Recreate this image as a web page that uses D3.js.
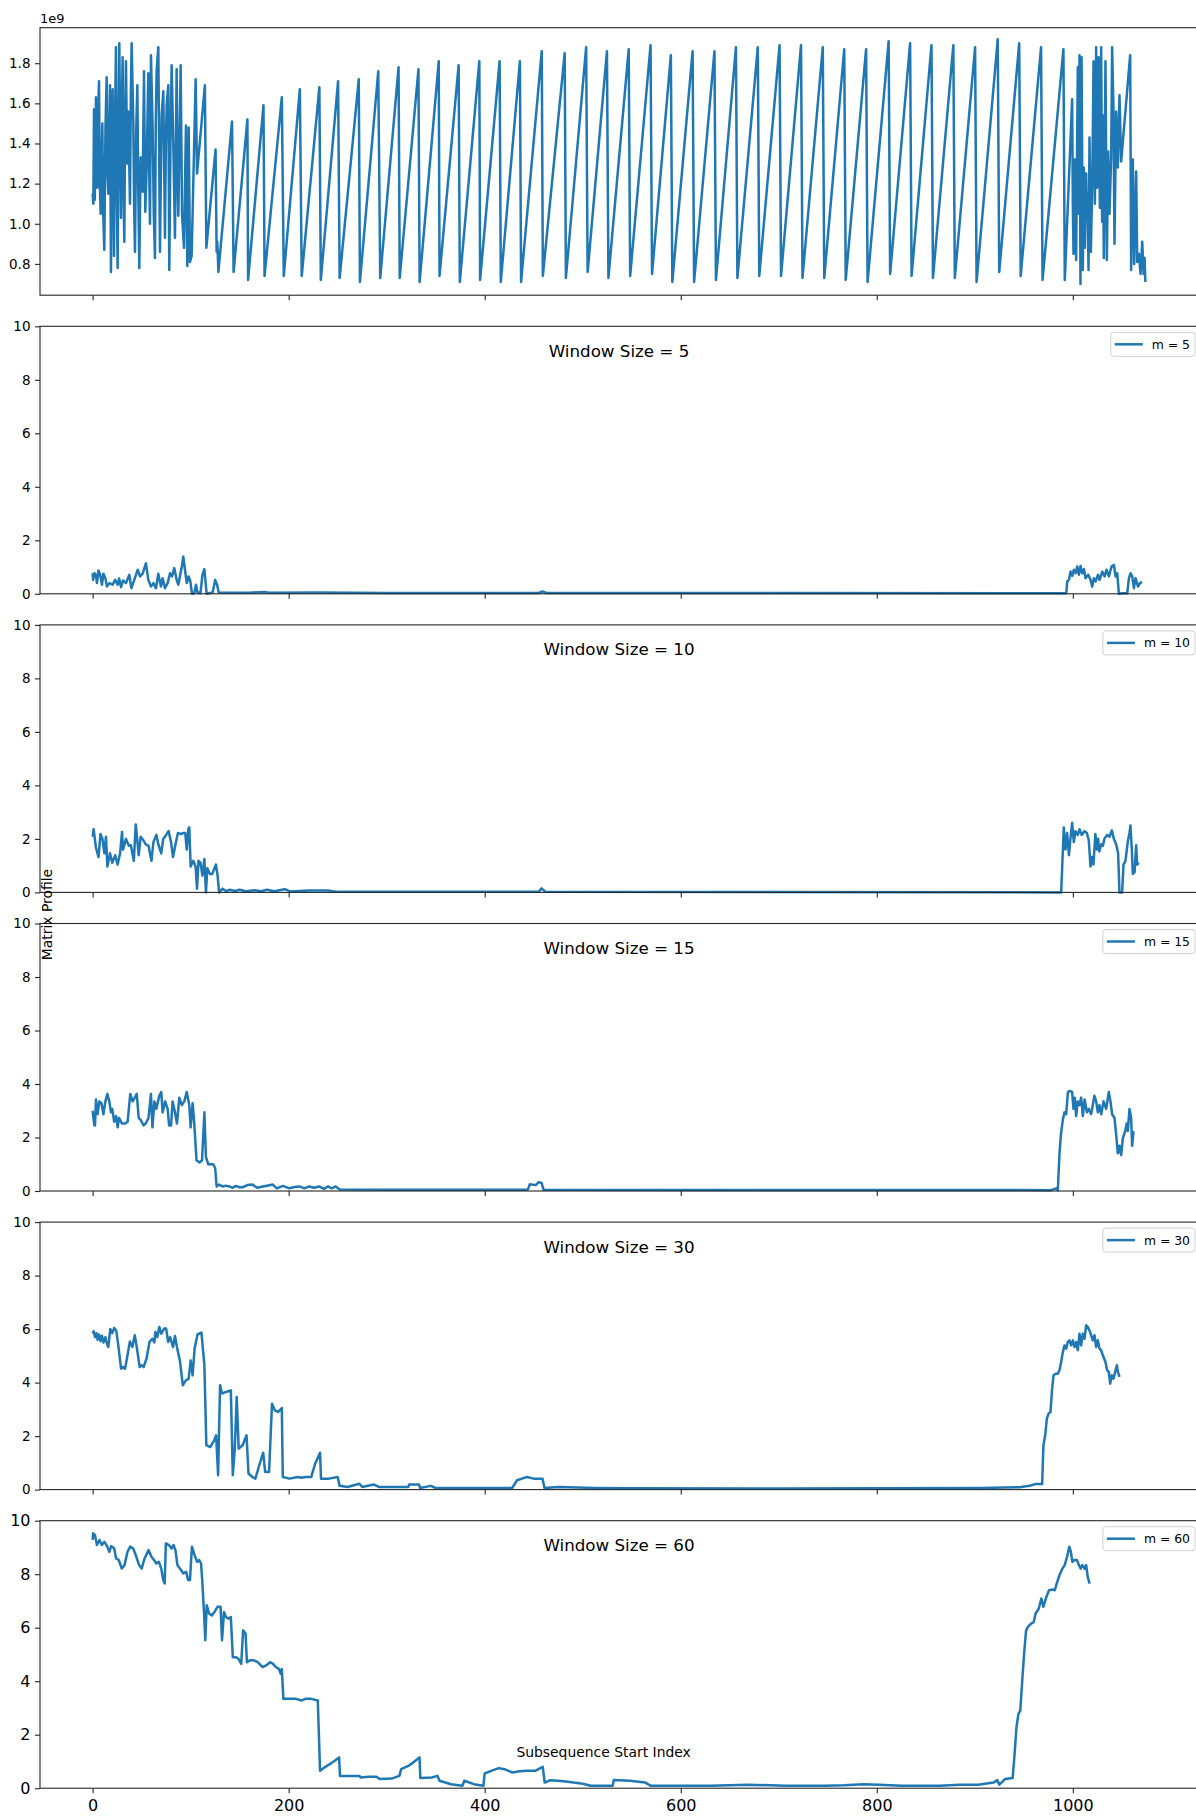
<!DOCTYPE html>
<html><head><meta charset="utf-8">
<script src="https://cdn.jsdelivr.net/npm/d3@7"></script>
<style>
body{margin:0;background:#fff}
svg{display:block}
text{font-family:"DejaVu Sans",sans-serif;fill:#000}
</style>
</head><body>
<svg id="c" width="1196" height="1816"></svg>
<script>
// ---------- data ----------
const xTicks = [0, 200, 400, 600, 800, 1000];
const rawTicks = [0.8, 1.0, 1.2, 1.4, 1.6, 1.8];
const mpTicks = [0, 2, 4, 6, 8, 10];
const windowSizes = [5, 10, 15, 30, 60];

// raw series, vertices [index, value (x1e9)]
const rawSeries = [
[0,1.15],[0.7,1.10],[1.4,1.57],[2.2,1.12],[3.4,1.63],[4.8,1.18],[5.6,1.55],[6.5,1.71],[7.3,1.20],[8.2,1.05],[9.9,1.50],[10.8,1.05],[11.9,0.87],[13.1,1.48],[14.3,1.73],[15.1,1.25],[16.0,1.15],[17.7,1.69],[18.7,0.76],[19.5,1.35],[20.4,1.67],[21.8,0.84],[22.7,1.45],[23.8,1.88],[24.6,1.20],[25.5,0.78],[26.3,1.40],[27.2,1.90],[28.9,1.03],[29.7,1.55],[30.6,1.83],[31.4,1.20],[32.3,0.91],[33.1,1.50],[34.0,1.81],[35.2,1.30],[36.4,1.56],[38.1,1.10],[39.0,1.65],[39.8,1.90],[41.5,1.51],[42.3,1.10],[43.2,0.86],[44.4,1.45],[45.6,1.69],[46.6,1.15],[47.6,0.78],[49.0,1.33],[51.0,1.16],[52.4,1.76],[53.7,1.06],[55.1,1.28],[56.8,1.75],[57.6,1.30],[58.5,1.00],[59.5,1.84],[61.2,1.48],[62.4,1.05],[63.6,0.83],[64.4,1.50],[65.3,1.76],[67.0,1.88],[68.7,0.86],[69.5,1.20],[70.4,1.54],[72.1,1.66],[73.8,0.93],[74.6,1.35],[75.5,1.59],[77.2,1.69],[78.2,0.77],[79.4,1.40],[80.6,1.79],[82.3,1.40],[84.0,0.93],[85.7,1.77],[86.5,1.30],[87.4,1.04],[89.8,1.79],[91.2,1.05],[93.2,0.88],[95.2,1.49],[96.6,0.79],[98.0,1.48],[99.3,0.81],[101.0,0.84],
[105.1,1.72],[106.5,1.25],[114.5,1.69],[116,0.88],[125.4,1.37],[126.5,0.86],[127.2,0.91],[128.3,0.76],[142.2,1.51],[143.8,0.76],[157.9,1.52],[158.6,0.72],[174.3,1.59],[175.4,0.74],[193,1.63],[195,0.74],[211.4,1.67],[213.3,0.74],[231.3,1.68],[232.8,0.72],[250.4,1.71],[252,0.73],[271.5,1.72],[272.7,0.71],[291.4,1.76],[293.4,0.73],[312.1,1.78],[313.3,0.73],[332.4,1.77],[333.6,0.71],[353.1,1.81],[353.9,0.74],[373.4,1.79],[374.6,0.71],[394.5,1.81],[395.3,0.72],[415.2,1.81],[416.4,0.71],[435.9,1.81],[437.1,0.71],[458.2,1.86],[459.3,0.74],[481.6,1.85],[482.8,0.73],[503.5,1.88],[505,0.76],[524.7,1.86],[526.2,0.73],[546.9,1.87],[548.4,0.74],[569.2,1.89],[570.7,0.75],[589.9,1.84],[591.4,0.71],[612.1,1.86],[613.6,0.71],[634.4,1.86],[635.9,0.72],[656.3,1.88],[657.8,0.73],[678.6,1.88],[680.1,0.74],[700.8,1.89],[702.3,0.74],[722.7,1.89],[724.2,0.73],[744.9,1.88],[746.4,0.73],[766.8,1.87],[768.3,0.72],[789.1,1.87],[790.6,0.71],[812.1,1.91],[813.6,0.75],[834,1.90],[835.5,0.74],[855.8,1.89],[857.3,0.73],[878.1,1.89],[879.6,0.73],[900.3,1.88],[901.8,0.71],[923.4,1.92],[924.9,0.76],[945.3,1.90],[946.8,0.74],[967.6,1.88],[969.1,0.72],[990.4,1.87],[991.8,0.72],
[999.3,1.62],[1000.0,1.10],[1000.7,0.85],[1002.0,1.32],[1003.4,0.82],[1004.2,1.30],[1005.1,1.78],[1006.1,1.05],[1006.8,1.84],[1007.8,0.70],[1008.9,1.83],[1010.2,0.77],[1011.2,1.28],[1012.3,0.88],[1013.6,1.25],[1014.3,1.02],[1015,1.15],[1016,0.77],[1017,1.43],[1018.4,0.86],[1019.7,1.18],[1020.4,1.45],[1021.1,1.81],[1022.5,1.10],[1023.8,1.88],[1024.8,1.18],[1025.5,1.50],[1026.2,1.83],[1027.6,1.08],[1028.9,1.88],[1029.9,1.01],[1030.6,1.54],[1031.6,0.83],[1032.4,1.30],[1033.3,1.81],[1034.7,0.82],[1036.1,1.36],[1037.4,1.05],[1039.1,1.33],[1040.1,1.88],[1041.5,1.56],[1042.5,0.90],[1044.2,1.56],[1045.9,1.28],[1047.6,1.64],[1049.3,1.31],[1058.5,1.84],[1059.5,0.77],[1061.2,1.32],[1062.6,0.80],[1064.6,1.26],[1065.7,0.81],[1067.4,0.85],[1069.1,0.75],[1070.8,0.91],[1072.2,0.75],[1073.2,0.83],[1074,0.71]
];

const mp5 = [
[0,0.77],[0.5,0.52],[1.7,0.77],[3.4,0.71],[4.4,0.40],[6,0.87],[7.7,0.71],[9.5,0.34],[11,0.75],[13,0.58],[14.6,0.27],[17,0.40],[20.4,0.34],[23,0.52],[25.5,0.34],[27,0.57],[29,0.25],[31,0.50],[34,0.40],[37.4,0.71],[39.5,0.21],[42.5,0.52],[46,0.90],[48.3,0.65],[51,0.75],[54.4,1.14],[56.8,0.52],[59.5,0.27],[62,0.40],[64.6,0.21],[67,0.75],[69.7,0.27],[71.4,0.58],[73.8,0.21],[76.5,0.40],[79,0.77],[81,0.65],[83.3,0.96],[85.7,0.52],[87.4,0.34],[89,0.65],[91,1.02],[92.5,1.39],[94.2,0.90],[96,0.40],[98,0.65],[99.7,0.46],[101.4,0],[103.7,0.02],[105.4,0.34],[107,0.05],[110,0.02],[112,0.71],[114,0.92],[115,0.52],[116.3,0],[122.4,0.05],[125,0.52],[127,0.34],[128.6,0.05],[160,0.04],[175,0.07],[180,0.04],[230,0.05],[300,0.03],[455,0.03],[459,0.09],[463,0.03],[700,0.03],[989,0.02],
[993.3,0.02],[994.3,0.46],[996,0.52],[997.7,0.83],[999.4,0.67],[1001,0.90],[1002.8,0.77],[1004.5,1.02],[1006.2,0.71],[1007.9,1.04],[1009.6,0.77],[1011.3,0.92],[1013,0.58],[1015.7,0.71],[1018.1,0.52],[1019.8,0.27],[1021.5,0.58],[1023.2,0.46],[1025.6,0.71],[1027.3,0.52],[1030,0.83],[1032.4,0.65],[1034.4,0.90],[1036.8,0.65],[1039.5,1.02],[1041.9,1.08],[1043.6,0.65],[1045.3,0.77],[1047,0],[1050.4,0.02],[1055.5,0.02],[1057.2,0.58],[1058.9,0.77],[1060.6,0.65],[1062.3,0.21],[1064,0.58],[1066.5,0.27],[1068.5,0.40],[1070.5,0.45]
];

const mp10 = [
[0,2.08],[1,2.36],[3.4,1.67],[6,1.32],[8,2.18],[10,2.0],[12,1.46],[13.6,2.08],[15,0.97],[17.7,1.46],[20,1.11],[23,1.39],[25.5,1.04],[28,1.46],[30,2.26],[31,1.6],[34,2.0],[37,1.74],[39,1.76],[42,1.18],[44,2.54],[47,1.39],[49,2.08],[52,1.94],[54,1.8],[57,1.74],[60,1.18],[62,1.88],[65,2.15],[67,1.8],[70,1.46],[72,2.0],[75,2.15],[77.5,2.29],[80,1.88],[82,1.32],[85,1.88],[87,2.22],[90,2.18],[92.5,2.22],[94.5,2.22],[96,1.6],[97.6,2.36],[98.6,2.43],[100,0.97],[102.7,1.18],[105,0.97],[106.5,0.14],[108,1.18],[110,1.11],[112,0.63],[114,1.25],[115.6,0],[117,0.9],[119.7,0.69],[122,0.69],[125.8,1.04],[127.5,0.63],[129,0],[132.6,0.14],[136,0.05],[140,0.1],[145,0.05],[150,0.1],[156,0.04],[165,0.08],[172,0.04],[178,0.1],[185,0.04],[196,0.12],[202,0.03],[220,0.07],[240,0.07],[250,0.02],[455,0.02],[458,0.15],[462,0.02],[988.1,0],
[990.8,2.43],[992.5,1.6],[994.2,2.22],[996,1.39],[997.6,2.01],[999.3,2.6],[1001,1.88],[1002.7,2.29],[1005,2.15],[1006.8,2.36],[1009,2.15],[1012,2.29],[1014.3,2.22],[1016.3,1.94],[1018,0.97],[1019.4,1.32],[1021,1.04],[1023,2.18],[1024.5,1.6],[1025.8,2.01],[1027,1.53],[1029,1.8],[1030.6,1.74],[1032.3,2.01],[1035,2.15],[1037.4,2.08],[1039.8,2.32],[1041.8,2.01],[1044.2,1.8],[1046.2,1.46],[1047.6,0],[1050.3,0],[1051.7,1.04],[1053.7,1.18],[1056,1.88],[1057.8,2.22],[1058.8,2.5],[1060.2,1.6],[1061.2,0.69],[1063,0.76],[1064.6,1.76],[1065.6,1.04],[1067.3,1.11]
];

const mp15 = [
[0,3.0],[1.7,2.45],[2.4,2.45],[3.4,3.42],[5,2.87],[6.8,3.35],[9,3.28],[11,2.87],[13,3.35],[15,3.63],[17,3.35],[18.7,2.94],[20,3.07],[22,2.59],[24,2.8],[25.5,2.38],[27,2.73],[30,2.52],[33,2.52],[35.7,2.59],[38.4,3.63],[40.8,3.35],[43,3.49],[45,3.63],[47,2.73],[49,2.66],[52,2.45],[54,2.52],[57,2.73],[59.5,3.63],[61,2.38],[63,3.35],[65,3.07],[68,3.56],[70,3.70],[71.4,2.94],[74,3.35],[76.5,3.07],[78,2.45],[80,2.45],[81.6,3.35],[84,2.94],[86,2.52],[88.4,3.49],[91,3.21],[93.5,3.35],[96,3.70],[98.6,3.21],[100,2.38],[102,3.28],[103.7,2.52],[106,1.14],[109,1.07],[111.6,1.14],[114,2.94],[115.6,1.27],[118,1.0],[120.7,1.0],[123,1.0],[125,0.86],[126.5,0.17],[129,0.24],[132.6,0.17],[136,0.2],[139.5,0.17],[143,0.12],[146,0.19],[150,0.14],[153,0.14],[158,0.22],[163,0.24],[168,0.12],[173.5,0.17],[178,0.2],[183.7,0.24],[188,0.1],[194,0.19],[200.7,0.1],[206,0.15],[211,0.17],[216,0.1],[221,0.17],[226,0.12],[231,0.17],[236,0.08],[240,0.17],[244,0.1],[248,0.17],[252,0.06],[300,0.05],[444,0.05],[446,0.25],[452,0.22],[455,0.33],[458,0.3],[460,0.05],[700,0.04],[900,0.04],[977.9,0.03],[983,0.1],[984.7,0.03],
[986.4,1.41],[988,2.17],[989.8,2.66],[991.5,2.94],[993.2,2.87],[995,3.70],[996.6,3.74],[999.3,3.70],[1000.7,3.07],[1002,3.49],[1003.4,2.80],[1005,3.35],[1006.8,3.21],[1008.5,3.49],[1010.2,2.8],[1012,3.42],[1014.3,2.94],[1016.3,3.07],[1018.7,2.87],[1022,3.56],[1023.8,3.35],[1025.5,2.94],[1027.2,3.21],[1029,2.87],[1031.3,3.35],[1034,3.07],[1036.7,3.70],[1038.4,3.35],[1040.1,2.87],[1042.5,2.73],[1044.2,2.11],[1045.9,1.41],[1047.6,1.69],[1049.3,1.34],[1051,1.97],[1053.4,2.24],[1055,2.52],[1056.1,2.24],[1057.8,3.07],[1059.5,2.73],[1060.5,1.69],[1061.9,2.24]
];

const mp30 = [
[0,5.83],[1,5.92],[2.5,5.7],[4,5.85],[5,5.6],[6.5,5.8],[8,5.55],[9.5,5.75],[11,5.5],[13,5.7],[14.5,5.45],[16,5.33],[18,6.0],[20,5.85],[22,6.04],[24,5.95],[26,5.45],[29,4.52],[31,4.58],[33,4.52],[35,4.9],[38,5.54],[40.5,5.33],[43,5.77],[45,5.33],[48,4.58],[50,4.65],[52,4.58],[55,4.9],[58,5.52],[61,5.64],[63,5.5],[64,5.89],[66,5.7],[68,6.08],[70,5.83],[73,6.02],[75,6.02],[77,5.52],[79,5.7],[80,5.58],[82,5.33],[84,5.74],[86,5.33],[89,4.83],[92,3.90],[95,4.08],[98,4.15],[100,4.83],[102,4.27],[104,5.27],[107,5.8],[111,5.87],[114,4.65],[116,1.66],[120,1.59],[124,1.84],[126,2.03],[128,0.54],[130,3.90],[132,3.59],[136,3.65],[141,3.71],[143,0.54],[145,1.53],[147,3.46],[149,1.53],[153,1.66],[157,2.03],[159,0.6],[163,0.47],[166,0.41],[170,0.91],[174,1.38],[176,0.66],[180,0.66],[183,3.21],[186,2.96],[189,2.9],[193,3.05],[194,0.47],[201,0.41],[209,0.47],[213,0.44],[217,0.47],[223,0.47],[227,0.97],[232,1.38],[233,0.41],[241,0.41],[250,0.47],[252,0.14],[260,0.1],[272,0.22],[275,0.1],[287,0.19],[292,0.1],[322,0.1],[323,0.19],[333,0.19],[334,0.06],[345,0.14],[350,0.06],[428,0.06],[433,0.35],[438,0.41],[443,0.47],[450,0.41],[459,0.41],[461,0.06],[475,0.1],[513,0.06],[550,0.05],[700,0.04],[904.7,0.06],[945.6,0.09],[955.8,0.14],[961.9,0.21],[968.7,0.21],
[970,1.66],[971.8,2.03],[973.5,2.65],[975.2,2.84],[977.2,2.9],[978.6,3.65],[980.3,4.27],[982.3,4.33],[984.7,4.33],[986.4,4.46],[988.1,4.77],[989.8,5.14],[991.5,5.39],[993.2,5.27],[994.9,5.52],[996.6,5.58],[998.3,5.39],[1000,5.58],[1001.7,5.33],[1003.4,5.52],[1005.1,5.21],[1006.8,5.83],[1008.5,5.39],[1010.2,5.83],[1011.9,5.64],[1013.6,6.14],[1015.3,6.08],[1017,5.95],[1018.7,5.77],[1020.4,5.58],[1022.1,5.77],[1023.8,5.33],[1025.5,5.58],[1027.2,5.27],[1028.9,5.21],[1030.6,5.02],[1033.3,4.77],[1035,4.46],[1036.7,4.4],[1038.1,3.96],[1039.8,4.27],[1041.5,4.15],[1043.2,4.4],[1044.9,4.65],[1046,4.4],[1047.6,4.21]
];

const mp60 = [
[0,9.28],[0.5,9.53],[2.4,9.46],[4.4,9.09],[7,9.28],[9.4,9.09],[12,9.21],[15,9.03],[17,8.84],[19,9.05],[22,8.96],[24,8.59],[26.6,8.53],[29.7,8.21],[32.5,8.34],[35.6,8.84],[38.3,9.03],[41.4,8.96],[44.6,8.65],[47.4,8.34],[50,8.21],[53,8.59],[57,8.9],[60,8.65],[62.6,8.53],[65,8.4],[67.6,8.46],[70,8.21],[72,7.78],[73.5,7.65],[74.7,9.15],[77.8,9.09],[80.5,8.96],[82.5,9.09],[84.5,8.9],[86.5,8.34],[90.3,8.15],[92.3,8.03],[95.4,8.09],[97.4,7.78],[99.3,7.78],[101.3,9.03],[104,8.71],[106.7,8.46],[108.7,8.53],[110.6,8.4],[111.8,7.78],[113.7,6.53],[114.9,5.53],[116.4,6.84],[118.8,6.53],[121.5,6.46],[124.3,6.59],[127.4,6.78],[130.5,6.78],[132,5.53],[134,6.59],[136,6.4],[138.3,6.34],[141,6.4],[143,4.9],[146,4.9],[148.8,4.84],[151.6,4.65],[153.5,5.9],[156,5.78],[157.4,4.71],[160.6,4.78],[164.5,4.78],[168.4,4.71],[173.4,4.53],[177,4.59],[181,4.71],[184,4.65],[186.8,4.53],[190,4.46],[191.9,4.28],[193,4.46],[194.6,3.34],[197.7,3.34],[201.6,3.34],[207.5,3.34],[213.3,3.28],[217.2,3.34],[223,3.34],[229.7,3.28],[232,0.65],[236.7,0.78],[244.5,0.96],[251.5,1.15],[252.3,0.46],[260,0.46],[272,0.46],[273.7,0.4],[281.6,0.43],[289.4,0.43],[293.3,0.34],[305,0.36],[312.9,0.46],[314.8,0.71],[322.6,0.84],[333.5,1.15],[334.3,0.38],[346,0.4],[351.9,0.46],[353.9,0.28],[365.6,0.15],[377.3,0.09],[379.2,0.28],[389,0.15],[398.7,0.09],[399.9,0.55],[406.5,0.65],[414.4,0.75],[420.2,0.71],[428,0.59],[435.8,0.63],[443.6,0.65],[451.4,0.65],[459.2,0.8],[461.2,0.21],[467,0.3],[474.9,0.28],[482.7,0.25],[490.5,0.21],[498.3,0.18],[504.2,0.13],[508,0.09],[517,0.09],[530.6,0.09],[531.7,0.31],[548.1,0.28],[563.8,0.21],[569.6,0.09],[591,0.09],[630,0.09],[669,0.13],[708,0.09],[747,0.09],[766.8,0.11],[786.3,0.15],[802,0.13],[825.4,0.09],[864.4,0.09],[884,0.13],[903.5,0.13],[919,0.21],[923,0.3],[925,0.13],[930.8,0.34],[938.6,0.38],[940.6,1.28],[942.5,2.28],[944.5,2.78],[946.4,2.9],[948.4,4.03],[950.3,5.03],[952.3,5.9],[954.2,6.03],[957.4,6.15],[960.1,6.21],[962,6.53],[965.2,6.71],[967.9,7.09],[969.9,6.78],[973,7.15],[975.7,7.4],[979.6,7.43],[981.6,7.4],[983.5,7.65],[986.3,7.96],[989.4,8.21],[991.7,8.34],[994.1,8.65],[996.4,9.03],[998,8.84],[999.5,8.46],[1001.9,8.53],[1004.2,8.53],[1006.2,8.34],[1008.1,8.21],[1009.7,8.34],[1012,8.21],[1013.6,8.34],[1015.2,7.9],[1017.1,7.65]
];

const profiles = [mp5, mp10, mp15, mp30, mp60];

// ---------- layout ----------
const left = 40, right = 1198;
const top0 = 27.7, step = 298.6, ph = 267.5;
const blue = "#1f77b4";
const spine = "#262626";
const lw = 2.5;

const svg = d3.select("#c");
const x = d3.scaleLinear().domain([-53.7, 1127.7]).range([left, right]);

function panel(i, yDomain, yTicks, data, opts) {
  const t = top0 + i * step, b = t + ph;
  const y = d3.scaleLinear().domain(yDomain).range([b, t]);
  const g = svg.append("g");
  const last = opts.last;
  const tickFont = last ? 16 : 13.5;

  const line = d3.line().x(d => x(d[0])).y(d => y(d[1]));
  g.append("path").datum(data).attr("d", line)
    .attr("fill", "none").attr("stroke", blue).attr("stroke-width", lw)
    .attr("stroke-linejoin", "round");

  g.append("rect").attr("x", left).attr("y", t).attr("width", right - left).attr("height", ph)
    .attr("fill", "none").attr("stroke", spine).attr("stroke-width", 1.1);

  const xa = d3.axisBottom(x).tickValues(xTicks).tickSize(5).tickPadding(6)
    .tickFormat(last ? d3.format("d") : () => "");
  const gx = g.append("g").attr("transform", `translate(0,${b})`).call(xa);
  gx.select(".domain").remove();
  gx.selectAll("line").attr("stroke", spine).attr("stroke-width", 1.1);
  gx.selectAll("text").attr("font-size", tickFont).attr("fill", "#000")
    .attr("font-family", '"DejaVu Sans",sans-serif');

  const ya = d3.axisLeft(y).tickValues(yTicks).tickSize(5).tickPadding(4.5)
    .tickFormat(opts.fmt);
  const gy = g.append("g").attr("transform", `translate(${left},0)`).call(ya);
  gy.select(".domain").remove();
  gy.selectAll("line").attr("stroke", spine).attr("stroke-width", 1.1);
  gy.selectAll("text").attr("font-size", tickFont).attr("fill", "#000")
    .attr("font-family", '"DejaVu Sans",sans-serif');

  if (opts.title) {
    g.append("text").attr("x", (left + right) / 2).attr("y", t + 30.5)
      .attr("text-anchor", "middle").attr("font-size", 16.7).text(opts.title);
  }
  if (opts.legend) {
    const lg = g.append("g");
    const box = lg.append("rect");
    const txt = lg.append("text").attr("font-size", 12.4).text(opts.legend);
    const tw = txt.node().getComputedTextLength();
    const bw = 4 + 28 + 9 + tw + 5, bh = 24;
    const bx = 1195 - bw, by = t + 6;
    box.attr("x", bx).attr("y", by).attr("width", bw).attr("height", bh)
      .attr("rx", 3).attr("fill", "#fff").attr("fill-opacity", 0.8)
      .attr("stroke", "#d0d0d0").attr("stroke-width", 1);
    lg.append("line").attr("x1", bx + 4).attr("x2", bx + 32)
      .attr("y1", by + bh / 2).attr("y2", by + bh / 2)
      .attr("stroke", blue).attr("stroke-width", lw);
    txt.attr("x", bx + 41).attr("y", by + bh / 2 + 4.5);
  }
}

panel(0, [0.644, 1.977], rawTicks, rawSeries, {fmt: d3.format(".1f")});
svg.append("text").attr("x", 40).attr("y", 23).attr("font-size", 13).text("1e9");

profiles.forEach((mp, k) => {
  panel(k + 1, [0, 10], mpTicks, mp, {
    fmt: d3.format("d"),
    title: `Window Size = ${windowSizes[k]}`,
    legend: `m = ${windowSizes[k]}`,
    last: k === profiles.length - 1
  });
});

svg.append("text").attr("transform", "translate(52,914.5) rotate(-90)")
  .attr("text-anchor", "middle").attr("font-size", 13.9).text("Matrix Profile");
svg.append("text").attr("x", 603.6).attr("y", 1757)
  .attr("text-anchor", "middle").attr("font-size", 13.9).text("Subsequence Start Index");
</script>
</body></html>
